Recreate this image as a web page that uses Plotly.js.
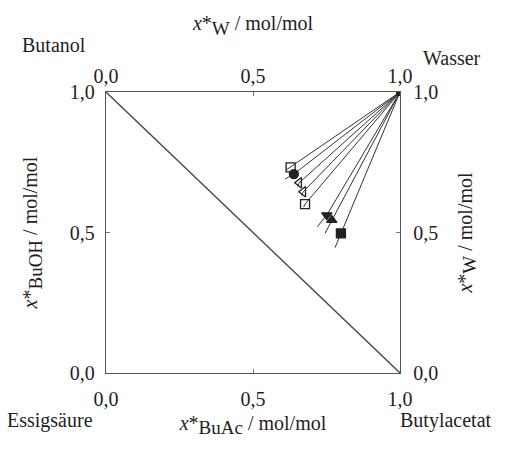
<!DOCTYPE html>
<html>
<head>
<meta charset="utf-8">
<script src="https://cdn.plot.ly/plotly-3.0.1.min.js"></script>
<style>html,body{margin:0;padding:0;background:#fff;}#plot{width:509px;height:456px;}</style>
</head>
<body>
<div id="plot"></div>
<script>
// Tie-line end points (phase rich in organic components), x = x*BuAc, y = x*BuOH
const pointX = [0.628, 0.639, 0.657, 0.671, 0.677, 0.751, 0.768, 0.799];
const pointY = [0.732, 0.708, 0.677, 0.645, 0.601, 0.562, 0.544, 0.497];
// small tail ends beyond each point
const tailX = [0.612, 0.609, 0.652, 0.664, 0.672, 0.719, 0.745, 0.779];
const tailY = [0.722, 0.690, 0.664, 0.632, 0.590, 0.521, 0.497, 0.446];
const symbols = ['square-open', 'circle', 'triangle-left-open', 'triangle-left-open', 'square-open', 'triangle-down', 'triangle-up', 'square'];
// water-rich phase corner
const waterX = [1.0];
const waterY = [1.0];
// diagonal boundary
const diagX = [0, 1];
const diagY = [1, 0];
const tickVals = [0, 0.5, 1];
const tickText = ['0,0', '0,5', '1,0'];

const lx = [], ly = [];
for (let i = 0; i < pointX.length; i++) {
  lx.push(waterX[0], pointX[i], tailX[i], null);
  ly.push(waterY[0], pointY[i], tailY[i], null);
}

const font = {family: 'Liberation Serif, Times New Roman, serif', size: 20, color: '#1e1e1e'};
const sub = s => '<sub><span style="font-size:19px">' + s + '</span></sub>';

const traces = [
  {x: diagX, y: diagY, mode: 'lines', line: {color: '#444', width: 1.3}, hoverinfo: 'skip', showlegend: false},
  {x: lx, y: ly, mode: 'lines', line: {color: '#333', width: 1}, hoverinfo: 'skip', showlegend: false},
  {x: pointX, y: pointY, mode: 'markers', marker: {symbol: symbols, size: 9, color: '#222', line: {color: '#222', width: 1.3}}, showlegend: false},
  {x: waterX, y: waterY, mode: 'markers', marker: {symbol: 'square', size: 8, color: '#222'}, showlegend: false}
];

const axisCommon = {
  range: [0, 1], tickvals: tickVals, ticktext: tickText, showgrid: false, zeroline: false,
  showline: true, linecolor: '#555', linewidth: 1.3, ticks: 'inside', ticklen: 4, tickcolor: '#777',
  tickfont: font, fixedrange: true, automargin: false
};

const layout = {
  width: 509, height: 456,
  margin: {l: 106, r: 109, t: 92, b: 83},
  paper_bgcolor: '#fff', plot_bgcolor: '#fff',
  font: font,
  showlegend: false,
  xaxis: Object.assign({}, axisCommon, {side: 'bottom', ticklabelstandoff: 8,
    title: {text: '<i>x</i>*' + sub('BuAc') + ' / mol/mol', font: font, standoff: 6}}),
  xaxis2: Object.assign({}, axisCommon, {side: 'top', overlaying: 'x', matches: 'x', ticklabelstandoff: 0,
    title: {text: '<i>x</i>*' + sub('W') + ' / mol/mol', font: font, standoff: 28}}),
  yaxis: Object.assign({}, axisCommon, {side: 'left', ticklabelstandoff: 6,
    title: {text: '<i>x</i>*' + sub('BuOH') + ' / mol/mol', font: font, standoff: 26}}),
  yaxis2: Object.assign({}, axisCommon, {side: 'right', overlaying: 'y', ticklabelstandoff: 8,
    title: {text: '<i>x</i>*' + sub('W') + ' / mol/mol', font: font, standoff: 20}}),
  annotations: [
    {text: 'Butanol', xref: 'paper', yref: 'paper', x: (54 - 106) / 294, y: (373 - 45) / 281, showarrow: false, font: font, xanchor: 'center', yanchor: 'middle'},
    {text: 'Wasser', xref: 'paper', yref: 'paper', x: (452 - 106) / 294, y: (373 - 58) / 281, showarrow: false, font: font, xanchor: 'center', yanchor: 'middle'},
    {text: 'Essigsäure', xref: 'paper', yref: 'paper', x: (50 - 106) / 294, y: (373 - 420) / 281, showarrow: false, font: font, xanchor: 'center', yanchor: 'middle'},
    {text: 'Butylacetat', xref: 'paper', yref: 'paper', x: (446 - 106) / 294, y: (373 - 420) / 281, showarrow: false, font: font, xanchor: 'center', yanchor: 'middle'}
  ]
};

// attach top/right axes with an invisible trace so they are drawn
traces.push({x: [0], y: [0], xaxis: 'x2', yaxis: 'y2', mode: 'markers', marker: {opacity: 0}, hoverinfo: 'skip', showlegend: false});

Plotly.newPlot('plot', traces, layout, {displayModeBar: false});
</script>
</body>
</html>
